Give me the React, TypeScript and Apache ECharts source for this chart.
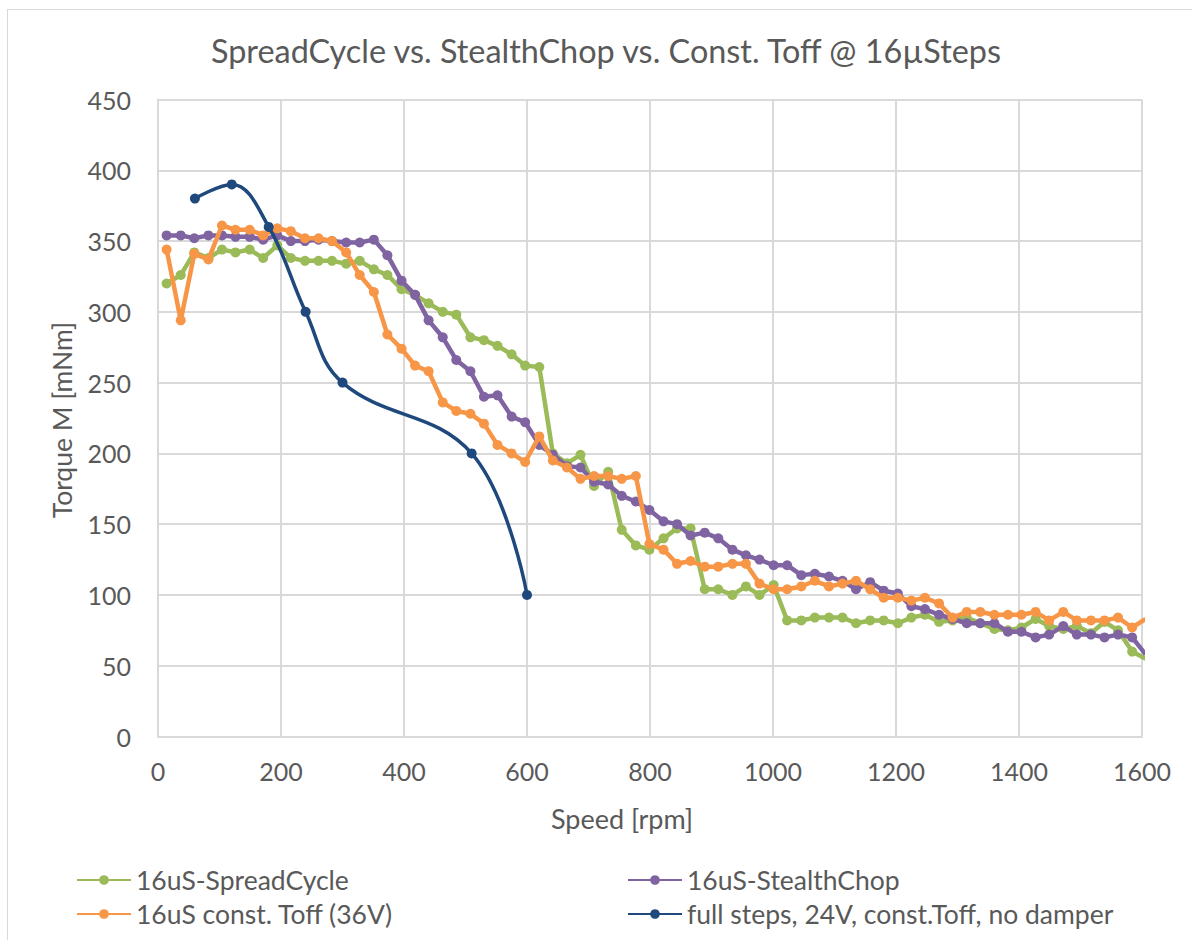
import React, { useEffect, useRef } from "react";
import * as echarts from "echarts";

const speeds = [14, 37, 59, 82, 104, 126, 149, 171, 194, 216, 239, 261, 283, 306, 328, 351, 373, 396, 418, 440, 463, 485, 508, 530, 552, 575, 597, 620, 642, 665, 687, 709, 732, 754, 777, 799, 822, 844, 866, 889, 911, 934, 956, 978, 1001, 1023, 1046, 1068, 1091, 1113, 1135, 1158, 1180, 1203, 1225, 1247, 1270, 1292, 1315, 1337, 1360, 1382, 1404, 1427, 1449, 1472, 1494, 1517, 1539, 1561, 1584, 1606];

const spreadCycle = [320, 326, 342, 338, 344, 342, 344, 338, 347, 338, 336, 336, 336, 334, 336, 330, 326, 316, 312, 306, 300, 298, 282, 280, 276, 270, 262, 261, 200, 193, 199, 177, 187, 146, 135, 132, 140, 147, 147, 104, 104, 100, 106, 100, 107, 82, 82, 84, 84, 84, 80, 82, 82, 80, 84, 86, 81, 82, 84, 80, 76, 75, 77, 83, 78, 76, 78, 73, 81, 75, 60, 55];

const stealthChop = [354, 354, 352, 354, 354, 353, 353, 351, 354, 350, 350, 351, 350, 349, 349, 351, 340, 322, 312, 294, 282, 266, 258, 240, 241, 226, 222, 206, 199, 191, 190, 180, 178, 170, 166, 160, 152, 150, 142, 144, 140, 132, 128, 125, 121, 121, 114, 115, 113, 110, 104, 109, 103, 101, 92, 90, 86, 83, 80, 80, 80, 74, 74, 70, 72, 78, 72, 72, 70, 72, 70, 58];

const constToff = [344, 294, 341, 337, 361, 358, 358, 354, 359, 357, 352, 352, 350, 342, 326, 314, 284, 274, 262, 258, 236, 230, 228, 221, 206, 200, 194, 212, 195, 190, 182, 184, 184, 182, 184, 136, 132, 122, 124, 120, 120, 122, 122, 108, 104, 104, 106, 110, 106, 108, 110, 104, 98, 98, 96, 98, 94, 84, 88, 88, 86, 86, 86, 88, 82, 88, 82, 82, 82, 84, 77, 83];

const fullStepSpeeds = [60, 120, 180, 240, 300, 510, 600];
const fullStepTorque = [380, 390, 360, 300, 250, 200, 100];

const seriesNames = [
  "16uS-SpreadCycle",
  "16uS-StealthChop",
  "16uS const. Toff (36V)",
  "full steps, 24V, const.Toff, no damper",
];
const seriesColors = ["#9BBB59", "#8064A2", "#F79646", "#1F497D"];

const titleText = "SpreadCycle vs. StealthChop vs. Const. Toff @ 16µSteps";
const xTitle = "Speed [rpm]";
const yTitle = "Torque M [mNm]";

const FONT = "Lato, 'Noto Sans', sans-serif";
const TEXT = "#595959";
const GRID = "#d9d9d9";

function pairs(xs: number[], ys: number[]) {
  return xs.map((x, i) => [x, ys[i]]);
}

export default function App() {
  const ref = useRef<HTMLDivElement>(null);
  useEffect(() => {
    const chart = echarts.init(ref.current!, null, { renderer: "svg" });
    const lineSeries = (i: number, data: number[][], extra: any = {}) => ({
      name: seriesNames[i],
      type: "line",
      data,
      symbol: "circle",
      symbolSize: 10,
      showSymbol: true,
      clip: true,
      color: seriesColors[i],
      lineStyle: { color: seriesColors[i], width: 4.5 },
      itemStyle: { color: seriesColors[i] },
      emphasis: { disabled: true },
      z: 2 + i,
      ...extra,
    });
    const legendText = { color: TEXT, fontSize: 26.5, lineHeight: 28, fontFamily: FONT };
    chart.setOption({
      animation: false,
      textStyle: { fontFamily: FONT },
      grid: {
        left: 158,
        right: 50,
        top: 99.5,
        bottom: 203.5,
        outerBoundsMode: "none",
        containLabel: false,
      },
      xAxis: {
        type: "value",
        min: 0,
        max: 1600,
        interval: 200,
        axisLine: { show: true, lineStyle: { color: GRID, width: 2 } },
        axisTick: { show: false },
        axisLabel: {
          color: TEXT,
          fontSize: 25,
          margin: 22,
          fontFamily: FONT,
          formatter: (v: number) => String(v),
        },
        splitLine: { show: true, lineStyle: { color: GRID, width: 2 } },
      },
      yAxis: {
        type: "value",
        min: 0,
        max: 450,
        interval: 50,
        axisLine: { show: true, lineStyle: { color: GRID, width: 2 } },
        axisTick: { show: false },
        axisLabel: {
          color: TEXT,
          fontSize: 25,
          margin: 27,
          fontFamily: FONT,
          formatter: (v: number) => String(v),
        },
        splitLine: { show: true, lineStyle: { color: GRID, width: 2 } },
      },
      legend: [
        {
          left: 71,
          top: 861,
          orient: "vertical",
          itemGap: 6,
          itemWidth: 54,
          itemHeight: 12,
          data: [seriesNames[0], seriesNames[2]],
          textStyle: legendText,
        },
        {
          left: 622,
          top: 861,
          orient: "vertical",
          itemGap: 6,
          itemWidth: 54,
          itemHeight: 12,
          data: [seriesNames[1], seriesNames[3]],
          textStyle: legendText,
        },
      ],
      graphic: [
        {
          type: "text",
          x: 606,
          y: 50,
          style: {
            text: titleText,
            fill: TEXT,
            font: `32.4px ${FONT}`,
            textAlign: "center",
            textVerticalAlign: "middle",
          },
        },
        {
          type: "text",
          x: 622,
          y: 818,
          style: {
            text: xTitle,
            fill: TEXT,
            font: `27px ${FONT}`,
            textAlign: "center",
            textVerticalAlign: "middle",
          },
        },
        {
          type: "text",
          x: 62,
          y: 420,
          rotation: Math.PI / 2,
          style: {
            text: yTitle,
            fill: TEXT,
            font: `26.5px ${FONT}`,
            textAlign: "center",
            textVerticalAlign: "middle",
          },
        },
      ],
      series: [
        lineSeries(0, pairs(speeds, spreadCycle)),
        lineSeries(1, pairs(speeds, stealthChop)),
        lineSeries(2, pairs(speeds, constToff)),
        lineSeries(3, pairs(fullStepSpeeds, fullStepTorque), {
          smooth: 0.4,
          lineStyle: { color: seriesColors[3], width: 3.5 },
        }),
      ],
    });
    return () => chart.dispose();
  }, []);
  return (
    <div style={{ position: "fixed", left: 0, top: 0, width: 1192, height: 940, background: "#fff" }}>
      <div
        style={{
          position: "absolute",
          left: 7,
          top: 9,
          width: 1220,
          height: 1000,
          border: "1px solid #d9d9d9",
          boxSizing: "border-box",
        }}
      />
      <div ref={ref} style={{ position: "absolute", left: 0, top: 0, width: 1192, height: 940 }} />
    </div>
  );
}
